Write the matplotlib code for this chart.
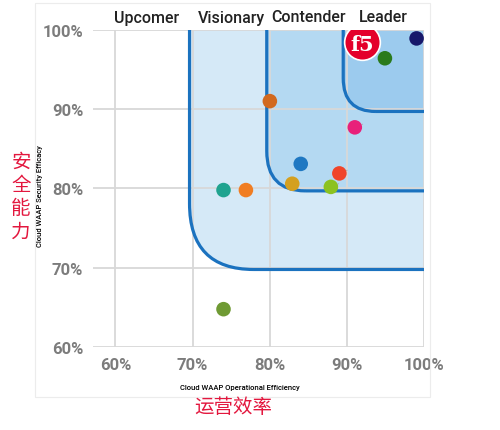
import matplotlib.pyplot as plt
from matplotlib.patches import FancyBboxPatch, Rectangle

# quadrant data
segments = ['Upcomer', 'Visionary', 'Contender', 'Leader']
segment_x = [147, 231, 308, 383]  # pixel centres of header labels

# boundaries of nested regions (lower-left corner, corner radius)
region_x0 = [69.6, 79.6, 89.5]
region_y0 = [69.8, 79.7, 89.7]
region_r = [8.3, 5.0, 4.2]
region_fill = ['#d5e9f7', '#b4d9f2', '#9ccbee']

# vendors
eff = [99.0, 94.9, 80.0, 91.0, 84.0, 89.0, 82.9, 87.9, 74.0, 76.9, 74.0]
sec = [98.9, 96.4, 91.0, 87.7, 83.1, 81.9, 80.6, 80.2, 79.8, 79.8, 64.8]
colors = ['#17186b', '#2a7a1c', '#d2691e', '#e8207a', '#1f78c2', '#f0452a',
          '#d4a020', '#8cc220', '#1fa38f', '#f07d22', '#6f9a34']
f5_pos = (91.9, 98.4)

ticks = [60, 70, 80, 90, 100]
tick_labels = ['60%', '70%', '80%', '90%', '100%']

fig = plt.figure(figsize=(5, 4.31), dpi=100)
ax = fig.add_axes([0.186, 0.1919, 0.8486 - 0.186, 0.9288 - 0.1919])
ax.set_xlim(57.1, 100)
ax.set_ylim(60, 100)

for x0, y0, r, fc in zip(region_x0, region_y0, region_r, region_fill):
    w, h = 130 - x0, 130 - y0
    fill = FancyBboxPatch((x0, y0), w, h, boxstyle=f'round,pad=0,rounding_size={r}',
                          fc=fc, ec='none', zorder=0.3)
    edge = FancyBboxPatch((x0, y0), w, h, boxstyle=f'round,pad=0,rounding_size={r}',
                          fc='none', ec='#1b72bf', lw=2.3, zorder=1.5)
    ax.add_patch(fill)
    ax.add_patch(edge)

ax.set_axisbelow(True)
ax.grid(True, color='#d8d8d8', lw=1.3)
for s in ax.spines.values():
    s.set_visible(False)
ax.set_xticks(ticks)
ax.set_xticklabels(tick_labels)
ax.set_yticks(ticks)
ax.set_yticklabels(tick_labels)
ax.tick_params(length=0, labelsize=12, labelcolor='#7c7c7c', pad=7)
for lbl in ax.get_xticklabels() + ax.get_yticklabels():
    lbl.set_family('Roboto')
    lbl.set_fontweight('bold')

# small leader lines next to some dots
for i in (3, 5, 7):
    ax.plot([eff[i], eff[i] + 1.0], [sec[i], sec[i] + 0.4], color='#aaaaaa', lw=0.6, zorder=2)

ax.scatter(eff, sec, c=colors, s=110, zorder=3, edgecolors='none')

# f5 logo
ax.scatter([f5_pos[0]], [f5_pos[1]], s=660, c='#e4002b', edgecolors='white', lw=1.2, zorder=4)
ax.text(f5_pos[0], f5_pos[1] - 0.2, 'f5', color='white', fontsize=15, fontweight='bold',
        family='DejaVu Serif', ha='center', va='center', zorder=5)

for name, px in zip(segments, segment_x):
    fig.text(px / 500, 1 - 18 / 431, name, ha='center', va='center', fontsize=11.5,
             family='Roboto', fontweight='medium', color='#222222')

fig.text(40 / 500, 1 - 196 / 431, 'Cloud WAAP Security Efficacy', rotation=90,
         ha='center', va='center', fontsize=5.5, family='Roboto', fontweight='medium')
fig.text(240 / 500, 1 - 388 / 431, 'Cloud WAAP Operational Efficiency',
         ha='center', va='center', fontsize=5.5, family='Roboto', fontweight='medium')

fig.text(21 / 500, 1 - 197 / 431, '\n'.join('安全能力'), ha='center', va='center',
         fontsize=14, color='#e3173e', family='Noto Sans CJK SC', linespacing=1.15)
fig.text(233 / 500, 1 - 408 / 431, '运营效率', ha='center', va='center',
         fontsize=14, color='#e3173e', family='Noto Sans CJK SC')

# faint frame around the picture
fig.add_artist(Rectangle((35 / 500, 1 - 398 / 431), (430 - 35) / 500, (398 - 4) / 431,
                         transform=fig.transFigure, fc='none', ec='#ececec', lw=0.8))

fig.savefig('out.png', dpi=100)
